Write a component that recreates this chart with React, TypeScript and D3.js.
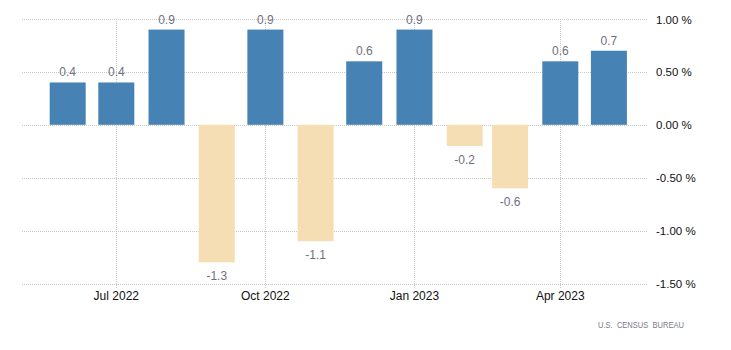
import { useRef, useEffect } from "react";
import * as d3 from "d3";

// monthly change, %
const months = [
  "2022-06-01", "2022-07-01", "2022-08-01", "2022-09-01", "2022-10-01", "2022-11-01",
  "2022-12-01", "2023-01-01", "2023-02-01", "2023-03-01", "2023-04-01", "2023-05-01",
];
const values = [0.4, 0.4, 0.9, -1.3, 0.9, -1.1, 0.6, 0.9, -0.2, -0.6, 0.6, 0.7];
const xTicks = ["2022-07-01", "2022-10-01", "2023-01-01", "2023-04-01"];
const yTicks = [1, 0.5, 0, -0.5, -1, -1.5];
const source = "U.S.  CENSUS  BUREAU";

const W = 731;
const H = 350;

export default function App() {
  const svgRef = useRef(null);

  useEffect(() => {
    const svg = d3.select(svgRef.current);
    svg.selectAll("*").remove();

    const parse = d3.utcParse("%Y-%m-%d");
    const left = 22, right = 647, top = 19, bottom = 283.5;

    const x = d3.scaleUtc()
      .domain([parse("2022-07-01")!, parse("2023-04-01")!])
      .range([116.3, 560.3]);
    const y = d3.scaleLinear().domain([-1.5, 1]).range([bottom, top]);
    const barW = 36;

    const grid = svg.append("g");
    // horizontal grid
    grid.selectAll("line.h")
      .data(yTicks)
      .join("line")
      .attr("x1", left).attr("x2", right)
      .attr("y1", (d) => Math.round(y(d)) + 0.5)
      .attr("y2", (d) => Math.round(y(d)) + 0.5)
      .attr("stroke", "#c8c8c8")
      .attr("stroke-dasharray", "1,1");
    // vertical grid + ticks
    grid.selectAll("line.v")
      .data(xTicks)
      .join("line")
      .attr("x1", (d) => Math.round(x(parse(d)!)) + 0.5)
      .attr("x2", (d) => Math.round(x(parse(d)!)) + 0.5)
      .attr("y1", top).attr("y2", bottom + 5)
      .attr("stroke", "#c8c8c8")
      .attr("stroke-dasharray", "1,1");

    // bars
    svg.append("g")
      .selectAll("rect")
      .data(values)
      .join("rect")
      .attr("x", (_, i) => x(parse(months[i])!) - barW / 2)
      .attr("width", barW)
      .attr("y", (d) => y(Math.max(0, d)))
      .attr("height", (d) => Math.abs(y(d) - y(0)))
      .attr("fill", (d) => (d >= 0 ? "#4682b4" : "#f5deb3"));

    // value labels
    svg.append("g")
      .selectAll("text")
      .data(values)
      .join("text")
      .attr("x", (_, i) => x(parse(months[i])!))
      .attr("y", (d) => (d >= 0 ? y(d) - 6 : y(d) + 18))
      .attr("text-anchor", "middle")
      .attr("font-family", "'Liberation Sans', Arial, sans-serif")
      .attr("font-size", 12)
      .attr("fill", "#6f6f7f")
      .text((d) => d.toFixed(1));

    // x axis labels
    svg.append("g")
      .selectAll("text")
      .data(xTicks)
      .join("text")
      .attr("x", (d) => x(parse(d)!))
      .attr("y", bottom + 16)
      .attr("text-anchor", "middle")
      .attr("font-family", "'Liberation Sans', Arial, sans-serif")
      .attr("font-size", 12)
      .attr("fill", "#111")
      .text((d) => d3.utcFormat("%b %Y")(parse(d)!));

    // y axis labels
    svg.append("g")
      .selectAll("text")
      .data(yTicks)
      .join("text")
      .attr("x", 656)
      .attr("y", (d) => y(d) + 4.5)
      .attr("font-family", "'Liberation Sans', Arial, sans-serif")
      .attr("font-size", 11.5)
      .attr("fill", "#111")
      .text((d) => d.toFixed(2) + " %");

    svg.append("text")
      .attr("x", 598)
      .attr("y", 328)
      .attr("font-family", "'Liberation Sans', Arial, sans-serif")
      .attr("font-size", 8.5)
      .attr("fill", "#7a7a8a")
      .attr("textLength", 86)
      .attr("lengthAdjust", "spacingAndGlyphs")
      .style("white-space", "pre")
      .text(source);
  }, []);

  return (
    <svg
      ref={svgRef}
      width={W}
      height={H}
      style={{ position: "absolute", left: 0, top: 0, background: "#fff" }}
    />
  );
}
